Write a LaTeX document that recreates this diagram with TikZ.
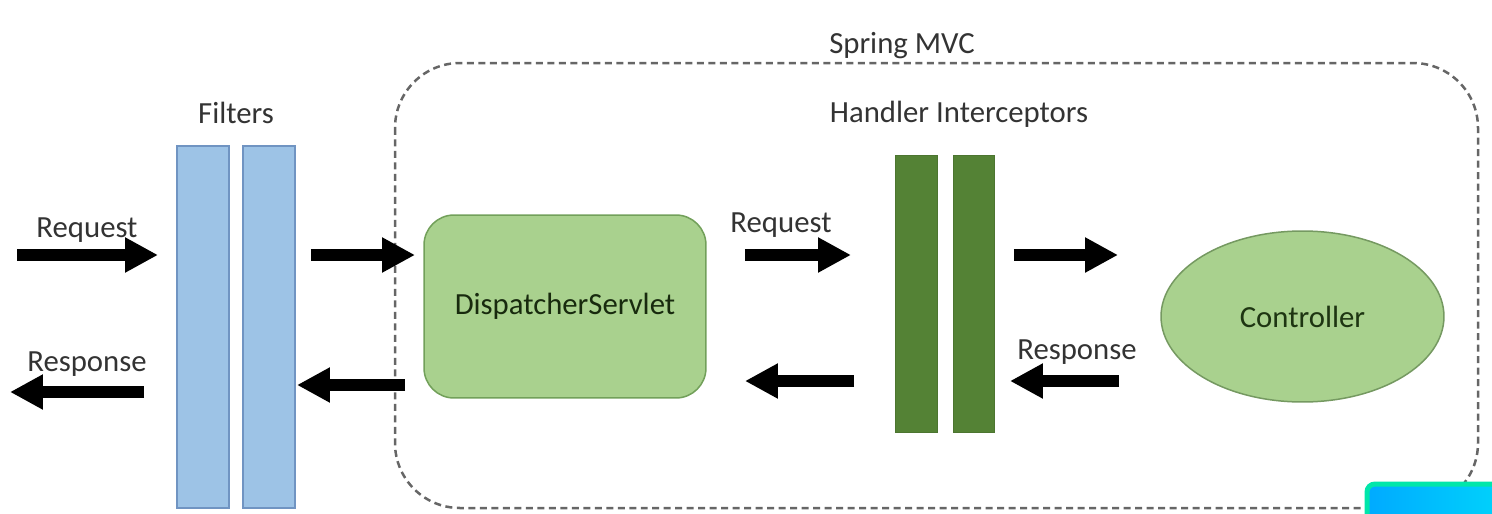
\documentclass[tikz,border=0pt]{standalone}
\usepackage{fontspec}
\setmainfont{Carlito}
\usepackage{tikz}
\usetikzlibrary{arrows.meta,shapes,positioning}
\definecolor{filterblue}{HTML}{9DC3E6}
\definecolor{filteredge}{HTML}{7094C2}
\definecolor{lightgreen}{HTML}{A9D18E}
\definecolor{greenedge}{HTML}{72A05A}
\definecolor{darkgreen}{HTML}{548235}
\definecolor{textgreen}{HTML}{1E3512}
\definecolor{framegray}{HTML}{666666}
\definecolor{labelgray}{HTML}{333333}
\tikzstyle{caption} = [inner sep=0pt, anchor=base, text=labelgray, font=\fontsize{17.5}{21}\selectfont]
\tikzstyle{filterbar} = [rectangle, draw=filteredge, fill=filterblue, line width=0.03cm, outer sep=0pt, minimum width=1.04cm, minimum height=7.24cm]
\tikzstyle{interbar} = [rectangle, draw=darkgreen!90!black, fill=darkgreen, line width=0.02cm, outer sep=0pt, minimum width=0.84cm, minimum height=5.56cm]
\tikzstyle{servlet} = [rectangle, rounded corners=0.6cm, draw=greenedge, fill=lightgreen, line width=0.03cm, outer sep=0pt, minimum width=5.64cm, minimum height=3.66cm, text=textgreen!80!black, font=\fontsize{17.5}{21}\selectfont]
\tikzstyle{ctrl} = [ellipse, draw=greenedge!80!gray, fill=lightgreen, line width=0.03cm, outer sep=0pt, minimum width=5.66cm, minimum height=3.42cm, text=textgreen, font=\fontsize{17.5}{21}\selectfont]
\tikzstyle{frame} = [draw=framegray, line width=0.05cm, dash pattern=on 0.14cm off 0.09cm, rounded corners=1.3cm]
\tikzstyle{fat} = [line width=0.24cm, -{Triangle[length=0.66cm,width=0.66cm]}]

\begin{document}
\begin{tikzpicture}[x=0.02cm,y=-0.02cm]
    \useasboundingbox (0,0) rectangle (1492,514);

    % Spring MVC container
    \draw[frame] (395,63) rectangle (1478,508);
    \node[caption] (mvclabel) at (902,53) {Spring MVC};

    % filters
    \node[filterbar] (f1) at (203,327) {};
    \node[filterbar, right=0.28cm of f1] (f2) {};
    \node[caption] (filterlabel) at (236,123) {Filters};

    \node[servlet] (disp) at (565,306.5) {DispatcherServlet};

    % handler interceptors
    \node[interbar] (i1) at (916,294) {};
    \node[interbar, right=0.32cm of i1] (i2) {};
    \node[caption] (interlabel) at (959,122) {Handler Interceptors};

    \node[ctrl] (ctrl) at (1302.5,316.5) {Controller};

    % arrow rows
    \coordinate (hi) at (0,255);
    \coordinate (lo) at (0,385);
    \coordinate (lor) at (0,381);
    \coordinate (reqin) at (17,255);
    \coordinate (respout) at (10,392);

    \draw[fat, shorten >=0.38cm] (reqin) -- (f1.west |- hi);
    \draw[fat, shorten <=0.66cm] (f1.west |- respout) -- (respout);
    \draw[fat, shorten <=0.32cm, shorten >=0.18cm] (f2.east |- hi) -- (disp.west |- hi);
    \draw[fat, shorten <=0.38cm, shorten >=0.04cm] (disp.west |- lo) -- (f2.east |- lo);
    \draw[fat, shorten <=0.78cm, shorten >=0.88cm] (disp.east |- hi) -- (i1.west |- hi);
    \draw[fat, shorten <=0.82cm, shorten >=0.78cm] (i1.west |- lor) -- (disp.east |- lor);
    \draw[fat, shorten <=0.38cm, shorten >=0.86cm] (i2.east |- hi) -- (ctrl.west |- hi);
    \draw[fat, shorten <=0.84cm, shorten >=0.30cm] (ctrl.west |- lor) -- (i2.east |- lor);

    \node[caption] (reqleft) at (87,237) {Request};
    \node[caption] (respleft) at (87,371) {Response};
    \node[caption] (reqmid) at (781,232) {Request};
    \node[caption] (respright) at (1077,359) {Response};

    % corner overlay
    \shade[left color={rgb,255:red,0;green,170;blue,255}, right color={rgb,255:red,0;green,222;blue,250},
        draw={rgb,255:red,0;green,230;blue,170}, line width=0.1cm, rounded corners=0.16cm]
        (1367,484) rectangle (1540,560);
\end{tikzpicture}
\end{document}
